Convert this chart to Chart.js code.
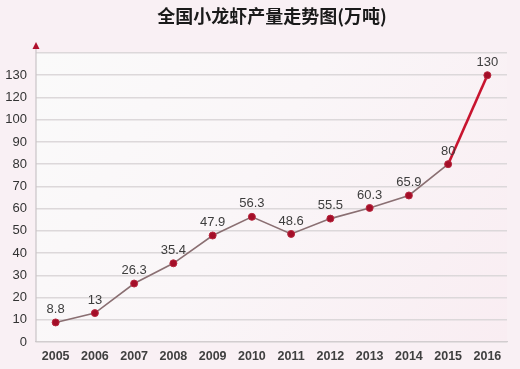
<!DOCTYPE html>
<html><head><meta charset="utf-8">
<script src="https://cdn.jsdelivr.net/npm/chart.js@4/dist/chart.umd.min.js"></script>
<style>html,body{margin:0;padding:0;background:#f8eff3}#wrap{width:520px;height:369px}</style>
</head><body><div id="wrap"><canvas id="c" width="520" height="369"></canvas></div>
<script>
const chartTitle = '全国小龙虾产量走势图(万吨)';
const years = ['2005','2006','2007','2008','2009','2010','2011','2012','2013','2014','2015','2016'];
const production = [8.8, 13, 26.3, 35.4, 47.9, 56.3, 48.6, 55.5, 60.3, 65.9, 80, 130];
const yTickLabels = [0, 10, 20, 30, 40, 50, 60, 70, 80, 90, 100, 120, 130];

// axis position (in tick-slot units) for a value, following the printed tick labels
function toPos(v) {
  const t = yTickLabels, n = t.length;
  if (v <= t[0]) return (v - t[0]) / (t[1] - t[0]);
  for (let i = 1; i < n; i++) if (v <= t[i]) return (i - 1) + (v - t[i - 1]) / (t[i] - t[i - 1]);
  return (n - 1) + (v - t[n - 1]) / (t[n - 1] - t[n - 2]);
}
function fromPos(p) {
  const t = yTickLabels, n = t.length;
  if (p <= 0) return t[0] + p * (t[1] - t[0]);
  if (p >= n - 1) return t[n - 1] + (p - (n - 1)) * (t[n - 1] - t[n - 2]);
  const i = Math.floor(p);
  return t[i] + (p - i) * (t[i + 1] - t[i]);
}
const SLOTS = yTickLabels.length; // one extra empty gridline on top

class LabelledScale extends Chart.LinearScale {
  buildTicks() {
    const ticks = yTickLabels.map(v => ({ value: v }));
    ticks.push({ value: fromPos(SLOTS) });
    return ticks;
  }
  getPixelForValue(v) {
    if (v === null || v === undefined || isNaN(v)) return NaN;
    return this.getPixelForDecimal(toPos(v) / SLOTS);
  }
  getValueForPixel(p) { return fromPos(this.getDecimalForPixel(p) * SLOTS); }
}
LabelledScale.id = 'labelled';
LabelledScale.defaults = Chart.LinearScale.defaults;
Chart.register(LabelledScale);

const bgPlugin = {
  id: 'bg',
  beforeDraw(chart) {
    const { ctx, chartArea: a } = chart;
    ctx.save();
    ctx.fillStyle = '#f9f0f4';
    ctx.fillRect(0, 0, chart.width, chart.height);
    const g = ctx.createLinearGradient(a.left, a.top, a.right, a.bottom);
    g.addColorStop(0, '#fafafa');
    g.addColorStop(0.45, '#faf6f8');
    g.addColorStop(1, '#f9edf2');
    ctx.fillStyle = g;
    ctx.fillRect(a.left, a.top, a.right - a.left, a.bottom - a.top);
    ctx.restore();
  },
  afterDraw(chart) {
    const { ctx, chartArea: a } = chart;
    ctx.save();
    // title
    ctx.fillStyle = '#1a1a1a';
    ctx.font = 'bold 18px "Noto Sans CJK SC"';
    ctx.textAlign = 'center';
    ctx.textBaseline = 'middle';
    ctx.fillText(chartTitle, 272, 16);
    // y axis arrow
    ctx.strokeStyle = '#c9c4c6';
    ctx.lineWidth = 1.2;
    ctx.beginPath();
    ctx.moveTo(a.left, a.top - 8);
    ctx.lineTo(a.left, a.bottom);
    ctx.stroke();
    ctx.fillStyle = '#b0102c';
    ctx.beginPath();
    ctx.moveTo(a.left, a.top - 11);
    ctx.lineTo(a.left - 3.5, a.top - 4);
    ctx.lineTo(a.left + 3.5, a.top - 4);
    ctx.closePath();
    ctx.fill();
    ctx.restore();
  },
  afterDatasetsDraw(chart) {
    const { ctx } = chart;
    const meta = chart.getDatasetMeta(0);
    ctx.save();
    ctx.fillStyle = '#3d3d3d';
    ctx.font = '13px "Liberation Sans"';
    ctx.textAlign = 'center';
    ctx.textBaseline = 'middle';
    meta.data.forEach((pt, i) => {
      ctx.fillText(String(production[i]), pt.x, pt.y - 13);
    });
    ctx.restore();
  }
};

new Chart(document.getElementById('c'), {
  type: 'line',
  data: {
    labels: years,
    datasets: [{
      data: production,
      borderColor: '#8a6f72',
      borderWidth: 1.6,
      segment: {
        borderColor: c => c.p1DataIndex === production.length - 1 ? '#c8142f' : '#8a6f72',
        borderWidth: c => c.p1DataIndex === production.length - 1 ? 2.6 : 1.6
      },
      pointRadius: 3.5,
      pointBackgroundColor: '#a30e28',
      pointBorderColor: '#b8283f',
      pointBorderWidth: 1,
      tension: 0,
      fill: false
    }]
  },
  plugins: [bgPlugin],
  options: {
    responsive: false,
    animation: false,
    events: [],
    layout: { padding: { top: 53, right: 13, left: 0, bottom: 0 } },
    plugins: { legend: { display: false }, tooltip: { enabled: false }, title: { display: false } },
    scales: {
      x: {
        type: 'category',
        offset: true,
        grid: { display: false, drawTicks: false },
        border: { display: true, color: '#d2cdcf', width: 1.2 },
        ticks: { color: '#404040', font: { family: 'Liberation Sans', size: 12.5, weight: 'bold' }, padding: 7, maxRotation: 0, autoSkip: false },
        afterFit(s) { s.height = 27; }
      },
      y: {
        type: 'labelled',
        min: 0,
        max: 130,
        grid: { color: '#dcd8da', lineWidth: 1.5, drawTicks: false },
        border: { display: false },
        ticks: {
          color: '#333333',
          font: { family: 'Liberation Sans', size: 13 },
          padding: 9,
          callback: (v, i) => i < yTickLabels.length ? String(yTickLabels[i]) : ''
        },
        afterFit(s) { s.width = 36; }
      }
    }
  }
});
</script>
</body></html>
